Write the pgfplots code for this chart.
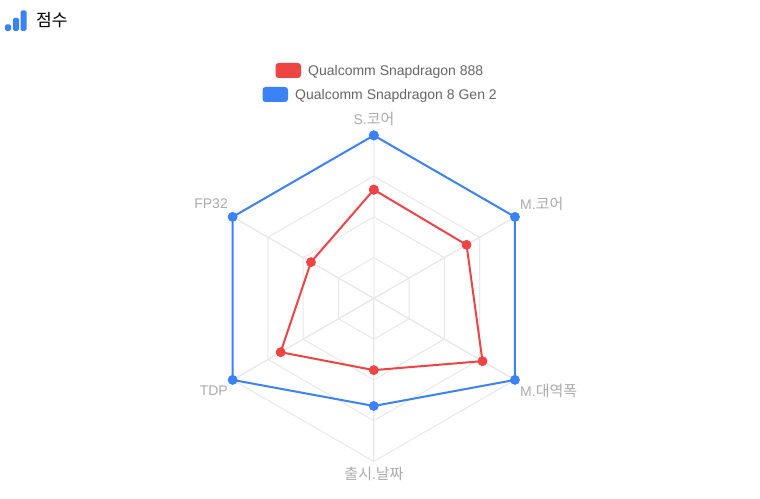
\documentclass[border=0pt]{standalone}
\usepackage{fontspec}
\setmainfont{Liberation Sans}
\newfontfamily\cjk[Scale=1.07]{Noto Sans CJK KR}
\usepackage{pgfplots}
\pgfplotsset{compat=1.18}
\usepgfplotslibrary{polar}

\definecolor{redline}{HTML}{EF4444}
\definecolor{blueline}{HTML}{3B82F6}
\definecolor{gridline}{HTML}{E8E8E8}
\definecolor{ticktext}{HTML}{ABABAB}
\definecolor{legendtext}{HTML}{666666}

% angle, score
\pgfplotstableread{
ang val
90 66.7
30 65.7
-30 77
-90 44
-150 66
150 44.5
90 66.7
}\snapeight
\pgfplotstableread{
ang val
90 100
30 100
-30 100
-90 66
-150 100
150 100
90 100
}\snapgen

\begin{document}
\begin{tikzpicture}[x=1pt,y=1pt]
\path[use as bounding box,fill=white] (0,0) rectangle (760,498);

% title icon
\fill[blueline,rounded corners=1.5pt] (5,467) rectangle (11,473.5);
\fill[blueline,rounded corners=1.5pt] (13,467) rectangle (19,480);
\fill[blueline,rounded corners=1.5pt] (20.5,467) rectangle (26.5,487.5);
\node[anchor=west,inner sep=0pt,font=\fontsize{16}{16}\selectfont\cjk] at (36,477.5) {점수};

% legend
\fill[redline,rounded corners=3pt] (275.5,420) rectangle (301,435);
\node[anchor=west,inner sep=0pt,text=legendtext,font=\fontsize{14}{14}\selectfont] at (308,426.5) {Qualcomm Snapdragon 888};
\fill[blueline,rounded corners=3pt] (262.5,396) rectangle (288,411);
\node[anchor=west,inner sep=0pt,text=legendtext,font=\fontsize{14}{14}\selectfont] at (295,402.5) {Qualcomm Snapdragon 8 Gen 2};

\begin{polaraxis}[
    at={(373.8pt,199.6pt)}, anchor=center,
    scale only axis, width=326pt, height=326pt,
    xmin=0, xmax=360, ymin=0, ymax=100,
    hide axis, clip=false,
]
% web
\addplot[gridline,line width=1pt] coordinates {(90,25)(30,25)(-30,25)(-90,25)(-150,25)(150,25)(90,25)};
\addplot[gridline,line width=1pt] coordinates {(90,50)(30,50)(-30,50)(-90,50)(-150,50)(150,50)(90,50)};
\addplot[gridline,line width=1pt] coordinates {(90,75)(30,75)(-30,75)(-90,75)(-150,75)(150,75)(90,75)};
\addplot[gridline,line width=1pt] coordinates {(90,100)(30,100)(-30,100)(-90,100)(-150,100)(150,100)(90,100)};
\addplot[gridline,line width=1pt] coordinates {(90,100)(90,0)(30,100)};
\addplot[gridline,line width=1pt] coordinates {(-30,100)(-30,0)(-90,100)};
\addplot[gridline,line width=1pt] coordinates {(-150,100)(-150,0)(150,100)};
\addplot[gridline,line width=1pt] coordinates {(90,0)(-90,100)};
\addplot[gridline,line width=1pt] coordinates {(30,100)(30,0)(-150,100)};
\addplot[gridline,line width=1pt] coordinates {(150,100)(150,0)(-30,100)};
% series
\addplot[redline,line width=2pt,mark=*,mark size=4.5pt,mark options={solid,fill=redline,draw=redline,line width=0.8pt}] table[x=ang,y=val] {\snapeight};
\addplot[blueline,line width=2pt,mark=*,mark size=4.5pt,mark options={solid,fill=blueline,draw=blueline,line width=0.8pt}] table[x=ang,y=val] {\snapgen};
\end{polaraxis}

% category labels
\begin{scope}[every node/.style={inner sep=0pt,text=ticktext,font=\fontsize{14}{14}\selectfont}]
\node[anchor=center] at (374,379.5) {S.{\cjk 코어}};
\node[anchor=west] at (520,294.5) {M.{\cjk 코어}};
\node[anchor=west] at (520,107.5) {M.{\cjk 대역폭}};
\node[anchor=center] at (374,24.5) {{\cjk 출시}.{\cjk 날짜}};
\node[anchor=east] at (228,107.5) {TDP};
\node[anchor=east] at (228,294.5) {FP32};
\end{scope}
\end{tikzpicture}
\end{document}
